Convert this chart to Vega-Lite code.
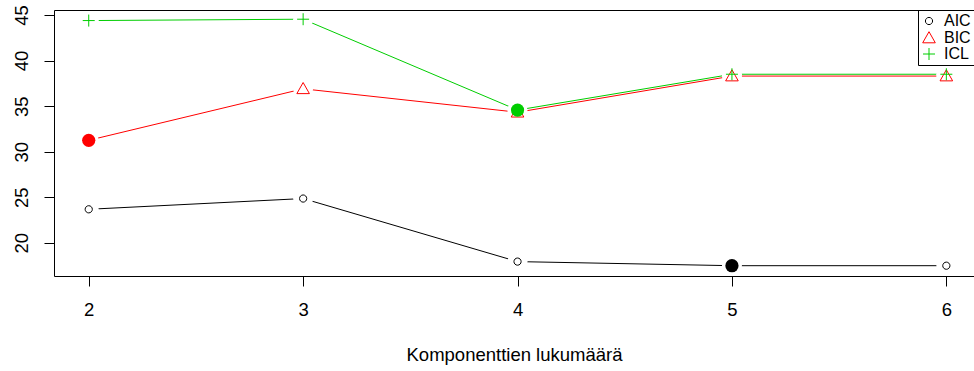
{
  "$schema": "https://vega.github.io/schema/vega-lite/v6.json",
  "width": 920,
  "height": 266,
  "autosize": {"type": "none"},
  "padding": {"left": 54, "top": 10, "right": 0, "bottom": 95},
  "background": "white",
  "config": {
    "view": {"stroke": null},
    "font": "Liberation Sans",
    "axis": {
      "domainColor": "black", "tickColor": "black", "labelColor": "black", "titleColor": "black",
      "grid": false, "labelFont": "Liberation Sans", "titleFont": "Liberation Sans",
      "labelFontSize": 18.5, "titleFontSize": 18.5, "titleFontWeight": "normal",
      "tickSize": 10, "domainWidth": 1, "tickWidth": 1, "zindex": 1
    }
  },
  "data": {"values": [
    {"k": 2, "crit": "AIC", "value": 23.68, "best": false},
    {"k": 3, "crit": "AIC", "value": 24.86, "best": false},
    {"k": 4, "crit": "AIC", "value": 17.94, "best": false},
    {"k": 5, "crit": "AIC", "value": 17.49, "best": true},
    {"k": 6, "crit": "AIC", "value": 17.49, "best": false},
    {"k": 2, "crit": "BIC", "value": 31.25, "best": true},
    {"k": 3, "crit": "BIC", "value": 36.9, "best": false},
    {"k": 4, "crit": "BIC", "value": 34.33, "best": false},
    {"k": 5, "crit": "BIC", "value": 38.3, "best": false},
    {"k": 6, "crit": "BIC", "value": 38.3, "best": false},
    {"k": 2, "crit": "ICL", "value": 44.39, "best": false},
    {"k": 3, "crit": "ICL", "value": 44.54, "best": false},
    {"k": 4, "crit": "ICL", "value": 34.57, "best": true},
    {"k": 5, "crit": "ICL", "value": 38.5, "best": false},
    {"k": 6, "crit": "ICL", "value": 38.5, "best": false}
  ]},
  "encoding": {
    "x": {"field": "k", "type": "quantitative",
      "scale": {"domain": [1.838, 6.129], "nice": false, "zero": false}, "axis": null},
    "y": {"field": "value", "type": "quantitative",
      "scale": {"domain": [16.36, 45.55], "nice": false, "zero": false}, "axis": null}
  },
  "layer": [
    {
      "mark": {"type": "line", "strokeWidth": 1},
      "encoding": {
        "x": {"field": "k", "type": "quantitative",
          "scale": {"domain": [1.838, 6.129], "nice": false, "zero": false},
          "axis": {"orient": "bottom", "values": [2, 3, 4, 5, 6], "format": "d", "labelAngle": 0,
            "labelPadding": 14, "title": "Komponenttien lukumäärä", "titlePadding": 27}},
        "y": {"field": "value", "type": "quantitative",
          "scale": {"domain": [16.36, 45.55], "nice": false, "zero": false},
          "axis": {"orient": "left", "values": [20, 25, 30, 35, 40, 45], "format": "d",
            "labelAngle": -90, "labelAlign": "center", "labelBaseline": "bottom",
            "labelPadding": 13, "title": null}},
        "color": {"field": "crit", "type": "nominal",
          "scale": {"domain": ["AIC", "BIC", "ICL"], "range": ["#000000", "#FF0000", "#00CD00"]}},
        "order": {"field": "k"}
      }
    },
    {
      "mark": {"type": "point", "shape": "circle", "filled": true, "size": 400, "fill": "white", "stroke": "white", "opacity": 1, "strokeWidth": 0},
      "encoding": {
        "x": {"field": "k", "type": "quantitative",
          "axis": {"orient": "top", "ticks": false, "labels": false, "title": null, "domain": true, "zindex": 2}}
      }
    },
    {
      "transform": [{"filter": "!datum.best"}],
      "mark": {"type": "point", "filled": false, "size": 144, "opacity": 1, "strokeWidth": 1},
      "encoding": {
        "color": {"field": "crit", "type": "nominal",
          "scale": {"domain": ["AIC", "BIC", "ICL"], "range": ["#000000", "#FF0000", "#00CD00"]},
          "legend": {"orient": "none", "legendX": 864, "legendY": 0, "title": null,
            "strokeColor": "black", "fillColor": "white", "padding": 3, "symbolSize": 144,
            "symbolStrokeWidth": 1, "labelFontSize": 16, "labelFont": "Liberation Sans",
            "labelColor": "black", "rowPadding": 0, "labelOffset": 7}},
        "shape": {"field": "crit", "type": "nominal",
          "scale": {"domain": ["AIC", "BIC", "ICL"],
            "range": ["M0.6,0A0.6,0.6,0,1,1,-0.6,0A0.6,0.6,0,1,1,0.6,0Z", "M0,-1.05L1.05,0.8L-1.05,0.8Z", "M-1,0L1,0M0,-1L0,1"]}}
      }
    },
    {
      "transform": [{"filter": "datum.best && datum.crit == 'AIC'"}],
      "mark": {"type": "point", "shape": "circle", "filled": true, "size": 175, "opacity": 1, "strokeWidth": 0, "fill": "#000000"}
    },
    {
      "transform": [{"filter": "datum.best && datum.crit == 'BIC'"}],
      "mark": {"type": "point", "shape": "circle", "filled": true, "size": 175, "opacity": 1, "strokeWidth": 0, "fill": "#FF0000"}
    },
    {
      "transform": [{"filter": "datum.best && datum.crit == 'ICL'"}],
      "mark": {"type": "point", "shape": "circle", "filled": true, "size": 175, "opacity": 1, "strokeWidth": 0, "fill": "#00CD00"}
    }
  ],
  "resolve": {"axis": {"x": "independent", "y": "independent"}}
}
